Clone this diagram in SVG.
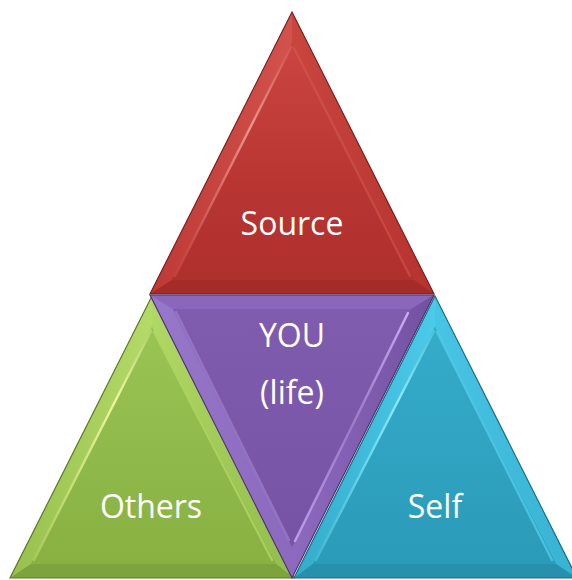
<svg xmlns="http://www.w3.org/2000/svg" width="572" height="580" viewBox="0 0 572 580">
  <defs>
    <style>
      .lbl { font-family: "Open Sans", "Noto Sans", "Liberation Sans", sans-serif; font-size: 32px; fill: #ffffff; text-anchor: middle; }
      .edge { fill: none; stroke-width: 1.2; stroke-linejoin: miter; }
      .streak { fill: none; stroke-width: 2.4; stroke-linecap: round; }
    </style>
    <!-- red -->
    <linearGradient id="redInner" x1="0" y1="0" x2="0" y2="1">
      <stop offset="0" stop-color="#CB4642"/>
      <stop offset="0.6" stop-color="#B83532"/>
      <stop offset="1" stop-color="#AF302D"/>
    </linearGradient>
    <linearGradient id="redLeft" x1="0" y1="0" x2="1" y2="0">
      <stop offset="0" stop-color="#BD3935"/>
      <stop offset="1" stop-color="#D2524D"/>
    </linearGradient>
    <linearGradient id="redRight" x1="0" y1="0" x2="1" y2="0">
      <stop offset="0" stop-color="#C9463F"/>
      <stop offset="1" stop-color="#B5322F"/>
    </linearGradient>
    <linearGradient id="redStreak" x1="0" y1="0" x2="0" y2="1">
      <stop offset="0" stop-color="#F29A94" stop-opacity="0.2"/>
      <stop offset="0.35" stop-color="#F29A94" stop-opacity="0.95"/>
      <stop offset="1" stop-color="#E06A65" stop-opacity="0.3"/>
    </linearGradient>
    <!-- purple -->
    <linearGradient id="purInner" x1="0" y1="0" x2="0" y2="1">
      <stop offset="0" stop-color="#805CAF"/>
      <stop offset="1" stop-color="#7653A5"/>
    </linearGradient>
    <linearGradient id="purLeft" x1="0" y1="0" x2="1" y2="0">
      <stop offset="0" stop-color="#9878CA"/>
      <stop offset="1" stop-color="#8B69BD"/>
    </linearGradient>
    <linearGradient id="purRight" x1="0" y1="0" x2="1" y2="0">
      <stop offset="0" stop-color="#8D6ABE"/>
      <stop offset="1" stop-color="#7350A0"/>
    </linearGradient>
    <linearGradient id="purStreak" x1="0" y1="0" x2="0" y2="1">
      <stop offset="0" stop-color="#CDB2F6" stop-opacity="0.95"/>
      <stop offset="0.5" stop-color="#B99BE8" stop-opacity="0.5"/>
      <stop offset="1" stop-color="#C3A6F0" stop-opacity="0.9"/>
    </linearGradient>
    <!-- green -->
    <linearGradient id="grnInner" x1="0" y1="0" x2="0" y2="1">
      <stop offset="0" stop-color="#9AC454"/>
      <stop offset="0.6" stop-color="#8EB849"/>
      <stop offset="1" stop-color="#88B142"/>
    </linearGradient>
    <linearGradient id="grnLeft" x1="0" y1="0" x2="1" y2="0">
      <stop offset="0" stop-color="#97C04E"/>
      <stop offset="1" stop-color="#B4DA68"/>
    </linearGradient>
    <linearGradient id="grnRight" x1="0" y1="0" x2="1" y2="0">
      <stop offset="0" stop-color="#AFD864"/>
      <stop offset="1" stop-color="#92BC4B"/>
    </linearGradient>
    <linearGradient id="grnStreak" x1="0" y1="0" x2="0" y2="1">
      <stop offset="0" stop-color="#F2F7A8" stop-opacity="0.3"/>
      <stop offset="0.3" stop-color="#F0F6A0" stop-opacity="1"/>
      <stop offset="1" stop-color="#D8EC88" stop-opacity="0.4"/>
    </linearGradient>
    <!-- cyan -->
    <linearGradient id="cynInner" x1="0" y1="0" x2="0" y2="1">
      <stop offset="0" stop-color="#35ACCA"/>
      <stop offset="0.6" stop-color="#2FA2C0"/>
      <stop offset="1" stop-color="#2A9BB8"/>
    </linearGradient>
    <linearGradient id="cynLeft" x1="0" y1="0" x2="1" y2="0">
      <stop offset="0" stop-color="#33ACCB"/>
      <stop offset="1" stop-color="#4CCAEA"/>
    </linearGradient>
    <linearGradient id="cynRight" x1="0" y1="0" x2="1" y2="0">
      <stop offset="0" stop-color="#48C4E4"/>
      <stop offset="1" stop-color="#38B2D2"/>
    </linearGradient>
    <linearGradient id="cynStreak" x1="0" y1="0" x2="0" y2="1">
      <stop offset="0" stop-color="#8EEEFF" stop-opacity="0.3"/>
      <stop offset="0.3" stop-color="#8AEBFF" stop-opacity="1"/>
      <stop offset="1" stop-color="#6CDDF6" stop-opacity="0.4"/>
    </linearGradient>
  </defs>

  <rect width="572" height="580" fill="#ffffff"/>

  <!-- top triangle -->
  <g id="source">
    <polygon points="292,12 150,294 434,294" fill="#B5322F"/>
    <polygon points="292,12 150,294 172,280 292,43" fill="url(#redLeft)"/>
    <polygon points="292,12 292,43 414,280 434,294" fill="url(#redRight)"/>
    <polygon points="150,294 434,294 414,280 172,280" fill="#A42B28"/>
    <polygon points="292,43 172,280 414,280" fill="url(#redInner)"/>
    <polyline class="streak" points="291,47 175,276" stroke="url(#redStreak)"/>
    <polyline class="streak" points="294,48 410,276" stroke="#D85A55" stroke-opacity="0.55"/>
    <polygon class="edge" points="292,12 150,294 434,294" stroke="#7C2220"/>
    <text class="lbl" x="292" y="235">Source</text>
  </g>

  <!-- left triangle -->
  <g id="others">
    <polygon points="152,296 10,578 294,578" fill="#8AB445"/>
    <polygon points="152,296 10,578 31,564 152,327" fill="url(#grnLeft)"/>
    <polygon points="152,296 152,327 276,564 294,578" fill="url(#grnRight)"/>
    <polygon points="10,578 294,578 276,564 31,564" fill="#7DA43C"/>
    <polygon points="152,327 31,564 276,564" fill="url(#grnInner)"/>
    <polyline class="streak" points="151,331 34,560" stroke="url(#grnStreak)"/>
    <polyline class="streak" points="154,332 272,560" stroke="#B5DC6A" stroke-opacity="0.7"/>
    <polygon class="edge" points="152,296 10,578 294,578" stroke="#5E7A2A"/>
    <text class="lbl" x="151" y="518">Others</text>
  </g>

  <!-- right triangle -->
  <g id="self">
    <polygon points="435,296 294,578 577,578" fill="#2C9FBD"/>
    <polygon points="435,296 294,578 313,564 435,327" fill="url(#cynLeft)"/>
    <polygon points="435,296 435,327 556,564 577,578" fill="url(#cynRight)"/>
    <polygon points="294,578 577,578 556,564 313,564" fill="#2790AC"/>
    <polygon points="435,327 313,564 556,564" fill="url(#cynInner)"/>
    <polyline class="streak" points="434,331 316,560" stroke="url(#cynStreak)"/>
    <polyline class="streak" points="437,332 552,560" stroke="#5AD0EE" stroke-opacity="0.7"/>
    <polygon class="edge" points="435,296 294,578 577,578" stroke="#1E6E84"/>
    <text class="lbl" x="435" y="518">Self</text>
  </g>

  <!-- centre inverted triangle -->
  <g id="you">
    <polygon points="150,295 434,295 292,578" fill="#7E5AAD"/>
    <polygon points="150,295 434,295 411,309 173,309" fill="#8A67BC"/>
    <polygon points="150,295 173,309 292,547 292,578" fill="url(#purLeft)"/>
    <polygon points="434,295 292,578 292,547 411,309" fill="url(#purRight)"/>
    <polygon points="173,309 411,309 292,547" fill="url(#purInner)"/>
    <polyline class="streak" points="408,313 295,541" stroke="url(#purStreak)"/>
    <polyline class="streak" points="176,312 289,540" stroke="#9E7FCF" stroke-opacity="0.7"/>
    <polygon class="edge" points="150,295 434,295 292,578" stroke="#4F3575"/>
    <text class="lbl" x="292" y="347">YOU</text>
    <text class="lbl" x="292" y="404">(life)</text>
  </g>
</svg>
